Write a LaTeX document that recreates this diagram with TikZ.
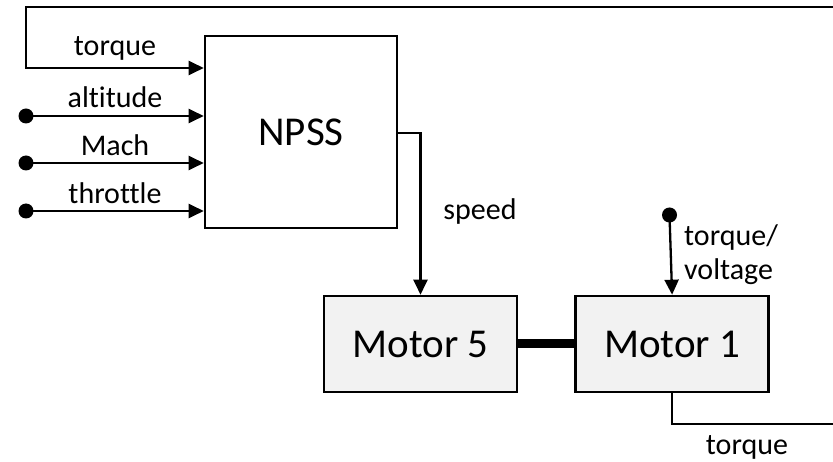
\documentclass[tikz,border=0pt]{standalone}
\usepackage{fontspec}
\setmainfont{Carlito}[Ligatures=NoCommon]
\usepackage{tikz}
\usetikzlibrary{arrows.meta, positioning}

\begin{document}
\begin{tikzpicture}[
    x=1pt, y=-1pt,
    node distance=56pt,
    block/.style={rectangle, draw=black, line width=2.6pt, fill=white,
                  minimum width=192pt, minimum height=192pt,
                  font=\fontsize{41}{46}\selectfont},
    motor/.style={rectangle, draw=black, line width=2.6pt, fill=black!5,
                  minimum width=193pt, minimum height=96pt,
                  font=\fontsize{41}{46}\selectfont},
    lbl/.style={inner sep=0pt, font=\fontsize{30}{34}\selectfont},
    sig/.style={-{Triangle[length=15pt, width=14pt]}, line width=2.3pt},
    wire/.style={line width=2.3pt},
    shaft/.style={line width=9pt}
]
\useasboundingbox (0,0) rectangle (833,462);

\node[block] (npss) at (301,132) {NPSS};
\node[motor] (m5) at (420.5,344) {Motor 5};
\node[motor, right=of m5] (m1) {Motor 1};

% inputs
\coordinate (alt) at (26,116);
\coordinate (mach) at (26,163);
\coordinate (thr) at (26,211);
\coordinate (cmd) at (669.5,215);
\foreach \p in {alt, mach, thr, cmd}
    \fill (\p) circle (7.5pt);

\draw[sig] (alt)  -- (alt -| npss.west);
\draw[sig] (mach) -- (mach -| npss.west);
\draw[sig] (thr)  -- (thr -| npss.west);
\draw[sig] (cmd)  -- (m1.north);

% torque feedback (runs off the picture)
\coordinate (fbtop) at (833,7);
\coordinate (fbin) at (26,68);
\coordinate (fbbot) at (833,424);
\draw[sig] (fbtop) -| (fbin) -- (fbin -| npss.west);
\draw[wire] (m1.south) |- (fbbot);

% speed
\coordinate (spd) at (421,133);
\draw[sig] (spd -| npss.east) -| (m5.north);

% shaft
\draw[shaft] (m5.east) -- (m1.west);

% labels
\node[lbl] (ltq)   at (115,48)  {torque};
\node[lbl] (lalt)  at (115,97)  {altitude};
\node[lbl] (lmach) at (115,145) {Mach};
\node[lbl] (lthr)  at (115,193) {throttle};
\node[lbl] (lspd)  at (480,212) {speed};
\node[lbl, anchor=north west, align=left] (lcmd) at (684,224) {torque/\\voltage};
\node[lbl] (ltq2)  at (747,447) {torque};
\end{tikzpicture}
\end{document}
